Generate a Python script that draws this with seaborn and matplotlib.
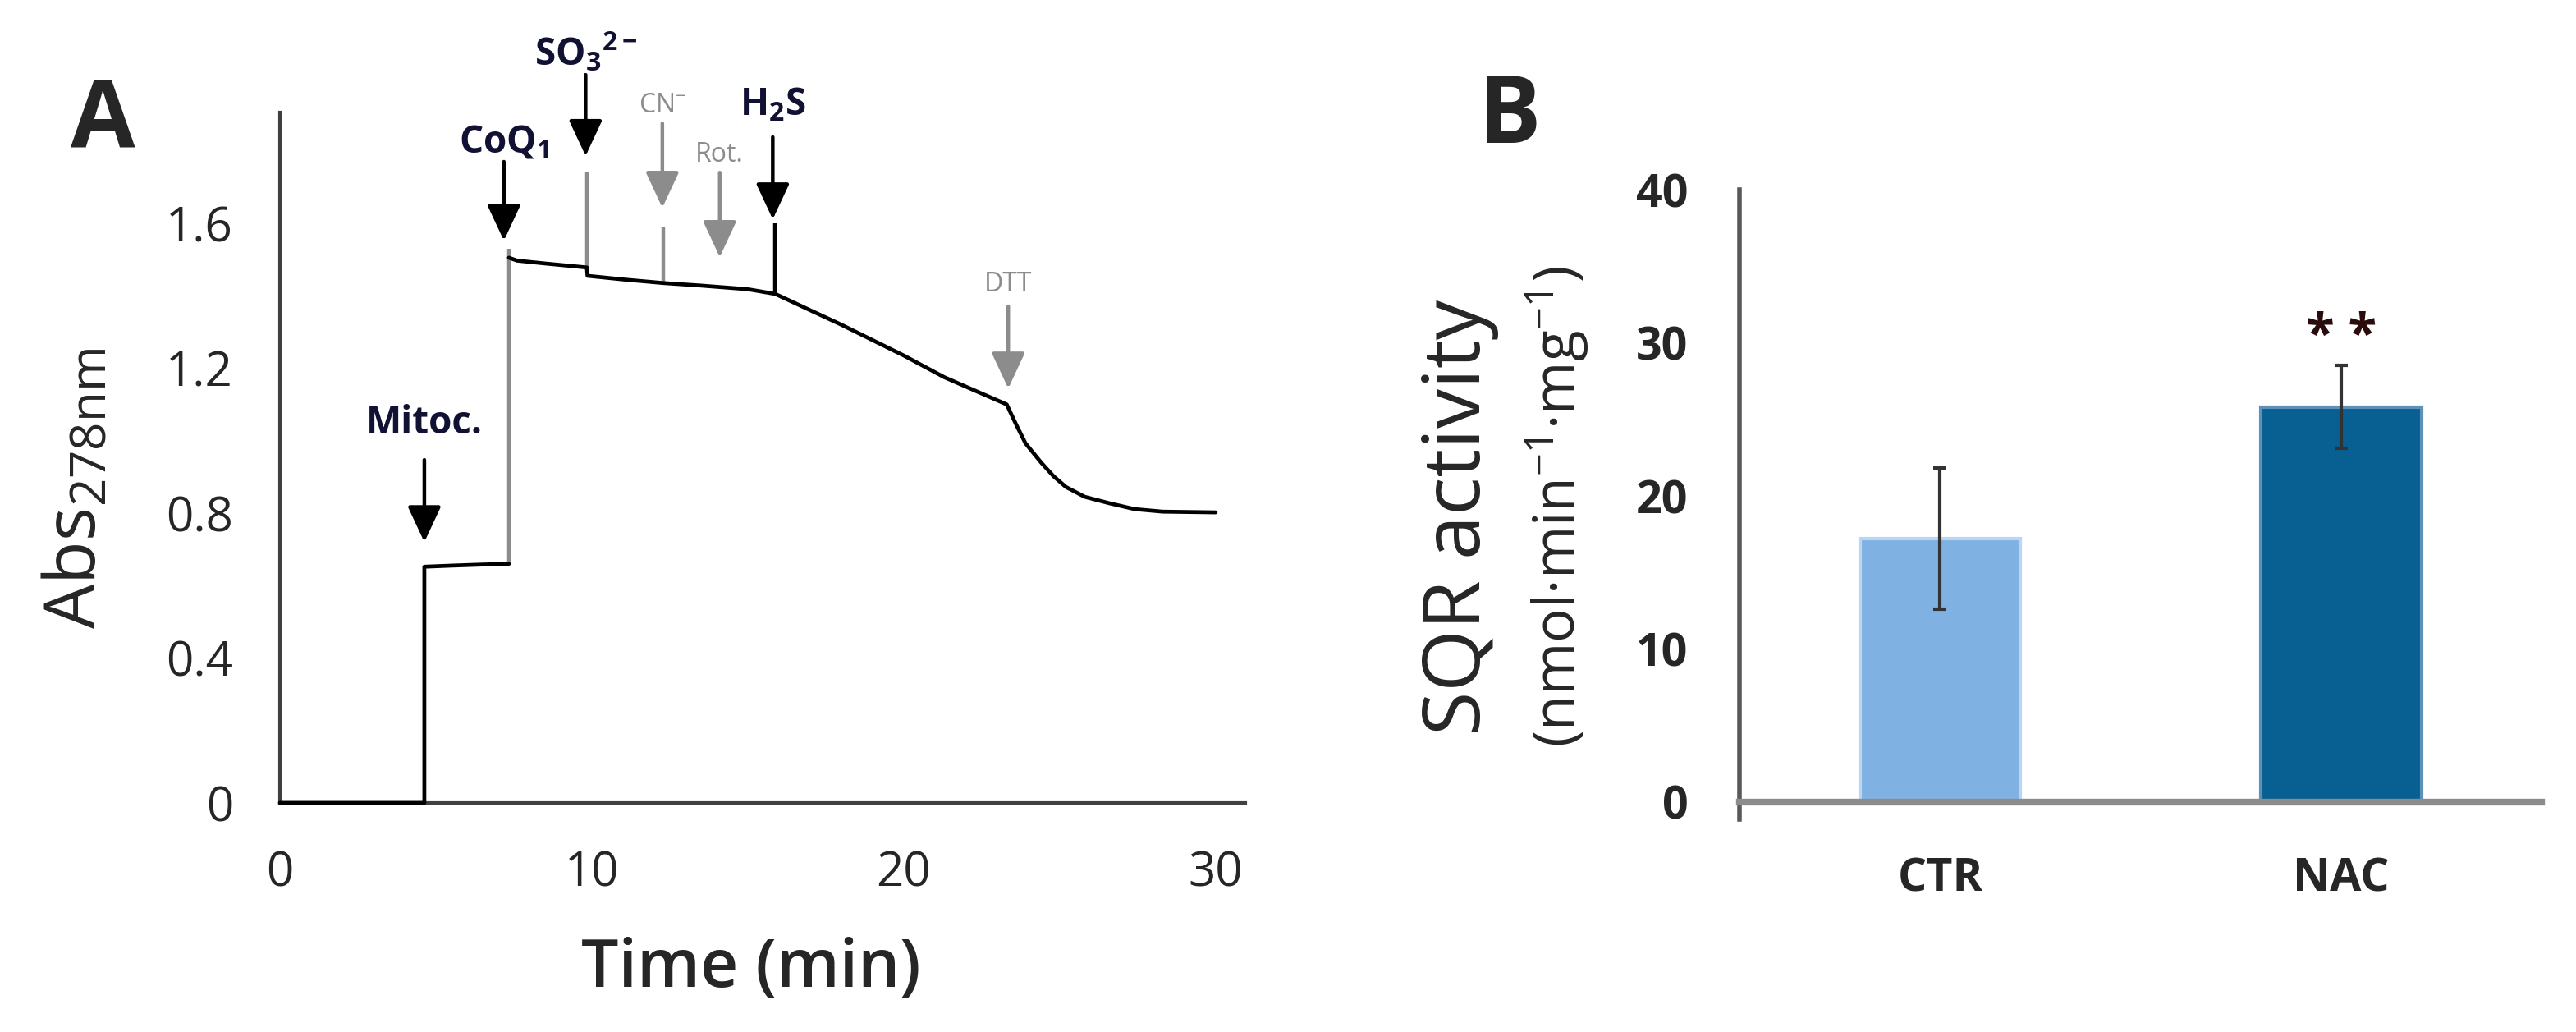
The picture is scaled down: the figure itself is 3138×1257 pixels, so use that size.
import pandas as pd
import seaborn as sns
import matplotlib.pyplot as plt

# ---- Panel A: absorbance trace ----
trace_time = [0.0, 4.63, 4.63, 5.5, 6.5, 7.34,
              7.34, 7.6, 8.5, 9.84, 9.86, 11.0, 12.3, 13.5, 15.0, 15.88,
              18.0, 20.0, 21.3, 22.5, 23.3, 23.6, 23.9, 24.4, 24.8, 25.2,
              25.8, 26.6, 27.4, 28.3, 30.0]
trace_abs = [0.0, 0.0, 0.652, 0.655, 0.658, 0.660,
             1.505, 1.497, 1.489, 1.478, 1.455, 1.445, 1.435, 1.428, 1.418, 1.405,
             1.32, 1.235, 1.175, 1.13, 1.10, 1.045, 0.993, 0.94, 0.902, 0.872,
             0.845, 0.827, 0.811, 0.804, 0.802]
trace_part = [0] * 6 + [1] * 25

# injection artefacts / steps drawn as vertical strokes
spike_time = [7.34, 9.84, 12.3, 15.88]
spike_low = [0.66, 1.47, 1.435, 1.405]
spike_high = [1.53, 1.74, 1.59, 1.60]
spike_color = ['#8c8c8c', '#8c8c8c', '#8c8c8c', 'black']

# additions (arrows)
add_label = ['Mitoc.', r'CoQ$_\mathbf{1}$', r'SO$_\mathbf{3}$$^\mathbf{2-}$',
             r'CN$^{-}$', 'Rot.', r'H$_\mathbf{2}$S', 'DTT']
add_time = [4.63, 7.18, 9.8, 12.26, 14.1, 15.8, 23.35]
add_tail = [0.947, 1.77, 2.01, 1.876, 1.74, 1.838, 1.371]
add_tip = [0.72, 1.552, 1.786, 1.643, 1.507, 1.611, 1.144]
add_text_y = [1.049, 1.824, 2.07, 1.926, 1.79, 1.926, 1.43]
add_black = [True, True, True, False, False, True, False]

a_yticks = [0, 0.4, 0.8, 1.2, 1.6]
a_yticklabels = ['0', '0.4', '0.8', '1.2', '1.6']
a_xticks = [0, 10, 20, 30]

# ---- Panel B: SQR activity ----
groups = ['CTR', 'NAC']
sqr_mean = [17.2, 25.8]
sqr_sd = [4.6, 2.7]
bar_colors = ['#7fb2e3', '#075f92']
bar_edges = ['#b9d6f2', '#5f90b9']

sns.set_style('white')
plt.rcParams['font.family'] = ['Open Sans', 'DejaVu Sans']
plt.rcParams['mathtext.fontset'] = 'custom'
plt.rcParams['mathtext.rm'] = 'Open Sans'
plt.rcParams['mathtext.bf'] = 'Open Sans:bold'
plt.rcParams['mathtext.it'] = 'Open Sans:italic'

fig = plt.figure(figsize=(31.38, 12.57), dpi=100)
axA = fig.add_axes([0.10867, 0.2220, 0.37476, 0.66905])
axB = fig.add_axes([0.67530, 0.2060, 0.31134, 0.61020])

# trace
trace = pd.DataFrame({'time': trace_time, 'abs': trace_abs, 'part': trace_part})
sns.lineplot(data=trace, x='time', y='abs', units='part', estimator=None,
             sort=False, color='black', lw=3.4, ax=axA, clip_on=False, zorder=4)
axA.vlines(spike_time, spike_low, spike_high, colors=spike_color, lw=3.2, zorder=3)

for lab, t, y0, y1, ty, blk in zip(add_label, add_time, add_tail, add_tip,
                                   add_text_y, add_black):
    col = 'black' if blk else '#8c8c8c'
    axA.annotate('', xy=(t, y1), xytext=(t, y0), annotation_clip=False,
                 arrowprops=dict(arrowstyle='-|>,head_length=0.9,head_width=0.42',
                                 mutation_scale=30, lw=3.2, color=col,
                                 shrinkA=0, shrinkB=0))
    if blk:
        axA.text(t, ty, lab, ha='center', va='center', fontsize=33,
                 fontweight='bold', color='#111133', clip_on=False)
    else:
        axA.text(t, ty, lab, ha='center', va='center', fontsize=23,
                 color='#8c8c8c', clip_on=False)

axA.set_xlim(0, 30.95)
axA.set_ylim(0, 1.906)
axA.set_xticks(a_xticks)
axA.set_yticks(a_yticks)
axA.set_yticklabels(a_yticklabels)
axA.set_xlabel('')
axA.set_ylabel('')
for s in ['top', 'right']:
    axA.spines[s].set_visible(False)
for s in ['left', 'bottom']:
    axA.spines[s].set_color('#404040')
    axA.spines[s].set_linewidth(3)
axA.tick_params(axis='both', which='major', direction='out', length=15,
                width=3, color='#555555', labelsize=42, pad=26)

# bars
sns.barplot(x=groups, y=sqr_mean, hue=groups, palette=bar_colors, legend=False,
            width=0.4, errorbar=None, saturation=1, ax=axB, zorder=2)
for patch, ec in zip(axB.patches, bar_edges):
    patch.set_edgecolor(ec)
    patch.set_linewidth(3)
axB.errorbar(range(len(groups)), sqr_mean, yerr=sqr_sd, fmt='none',
             ecolor='#333333', elinewidth=3, capsize=6, capthick=3, zorder=3)
axB.text(1, 30.3, '* *', ha='center', va='center', fontsize=46,
         fontweight='bold', color='#2a0c0c')

axB.set_xlim(-0.5, 1.5)
axB.set_ylim(-1.13, 40)
axB.set_yticks([0, 10, 20, 30, 40])
axB.set_xticks([0, 1])
axB.set_xticks([0.5, 1.5], minor=True)
axB.set_xlabel('')
axB.set_ylabel('')
for s in ['top', 'right']:
    axB.spines[s].set_visible(False)
axB.spines['bottom'].set_position(('data', 0))
axB.spines['bottom'].set_color('#8c8c8c')
axB.spines['bottom'].set_linewidth(6)
axB.spines['bottom'].set_zorder(4)
axB.spines['left'].set_color('#595959')
axB.spines['left'].set_linewidth(4)
axB.tick_params(axis='y', direction='out', length=15, width=3, color='#333333',
                labelsize=40, pad=30)
axB.tick_params(axis='x', which='major', length=0, labelsize=40, pad=48)
axB.tick_params(axis='x', which='minor', direction='out', length=16, width=3,
                color='black')
for lab in axB.get_xticklabels() + axB.get_yticklabels():
    lab.set_fontweight('bold')

# axis titles and panel letters
fig.text(0.0300, 0.5267, r'Abs$_\mathrm{278nm}$', rotation=90, ha='center',
         va='center', fontsize=62)
fig.text(0.2917, 0.0605, 'Time (min)', ha='center', va='center',
         fontsize=58, fontweight='semibold')
fig.text(0.5663, 0.4988, 'SQR activity', rotation=90, ha='center', va='center',
         fontsize=70)
fig.text(0.6045, 0.5090, '(nmol\u00b7min$^{-1}$\u00b7mg$^{-1}$)', rotation=90,
         ha='center', va='center', fontsize=50)
fig.text(0.0398, 0.8807, 'A', ha='center', va='center', fontsize=82,
         fontweight='bold')
fig.text(0.5860, 0.8854, 'B', ha='center', va='center', fontsize=82,
         fontweight='bold')

fig.savefig('out.png', dpi=100)
